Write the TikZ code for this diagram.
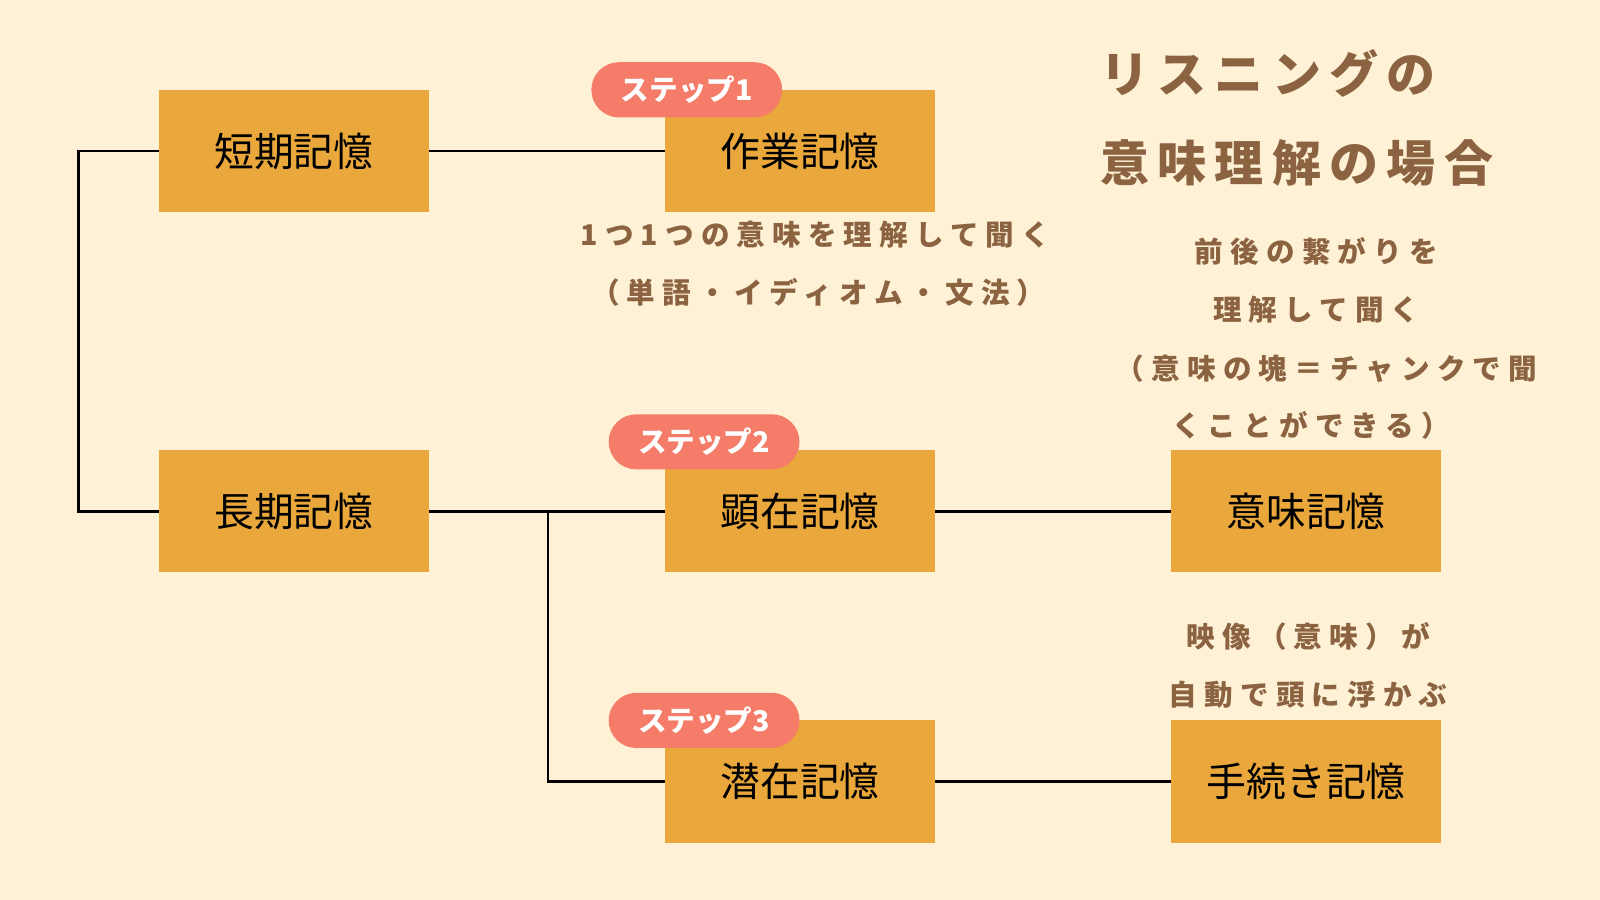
\documentclass[tikz,border=0pt]{standalone}
\usepackage{fontspec}
\newfontfamily\jp{Noto Sans CJK JP}
\definecolor{bgcream}{HTML}{FFF1D6}
\definecolor{boxorange}{HTML}{E9A73C}
\definecolor{pillred}{HTML}{F47C68}
\definecolor{notebrown}{HTML}{8B6341}
\tikzset{
  memobox/.style={fill=boxorange, minimum width=132pt, minimum height=60pt, inner sep=0pt,
    font=\jp\fontsize{19.5}{21}\selectfont},
  steppill/.style={fill=pillred, rounded corners=13.5pt, minimum width=93.5pt, minimum height=27pt,
    inner sep=0pt, text=white, font=\jp\bfseries\fontsize{14}{15}\selectfont},
  note/.style={text=notebrown, inner sep=0pt,
    font=\jp\bfseries\fontsize{14}{15}\selectfont\addfontfeature{LetterSpace=25}},
  titletext/.style={text=notebrown, inner sep=0pt, anchor=west,
    font=\jp\bfseries\fontsize{24}{26}\selectfont\addfontfeature{LetterSpace=17}},
  link/.style={line width=1.25pt, black}
}
\begin{document}
\begin{tikzpicture}[x=0.5pt,y=-0.5pt]
\fill[bgcream] (0,0) rectangle (1568,882);
\useasboundingbox (0,0) rectangle (1568,882);
% memory boxes
\node[memobox] (tanki) at (288,148) {短期記憶};
\node[memobox] (sagyo) at (784,148) {作業記憶};
\node[memobox] (choki) at (288,501) {長期記憶};
\node[memobox] (kenzai) at (784,501) {顕在記憶};
\node[memobox] (imi) at (1280,501) {意味記憶};
\node[memobox] (senzai) at (784,766) {潜在記憶};
\node[memobox] (tetsuzuki) at (1280,766) {手続き記憶};
% step labels
\node[steppill] (step1) at (673,88) {ステップ1};
\node[steppill] (step2) at (690,433) {ステップ2};
\node[steppill] (step3) at (690,706) {ステップ3};
% connectors
\coordinate (lspine) at (77,0);
\coordinate (bspine) at (537,0);
\draw[link] (tanki.west) -- (tanki.west -| lspine) |- (choki.west);
\draw[link] (tanki.east) -- (sagyo.west);
\draw[link] (choki.east) -- (kenzai.west);
\draw[link] (choki.east -| bspine) |- (senzai.west);
\draw[link] (kenzai.east) -- (imi.west);
\draw[link] (senzai.east) -- (tetsuzuki.west);
% title
\node[titletext] (title1) at (1078,72) {リスニングの};
\node[titletext] (title2) at (1078,160) {意味理解の場合};
% notes
\node[note] (sagyo1) at (799,230) {1つ1つの意味を理解して聞く};
\node[note] (sagyo2) at (802,287) {（単語・イディオム・文法）};
\node[note] (imi1) at (1290,246) {前後の繋がりを};
\node[note] (imi2) at (1290,303) {理解して聞く};
\node[note] (imi3) at (1300,361) {（意味の塊＝チャンクで聞};
\node[note] (imi4) at (1285,417) {くことができる）};
\node[note] (tetsu1) at (1282,624) {映像（意味）が};
\node[note] (tetsu2) at (1282,681) {自動で頭に浮かぶ};
\end{tikzpicture}
\end{document}
